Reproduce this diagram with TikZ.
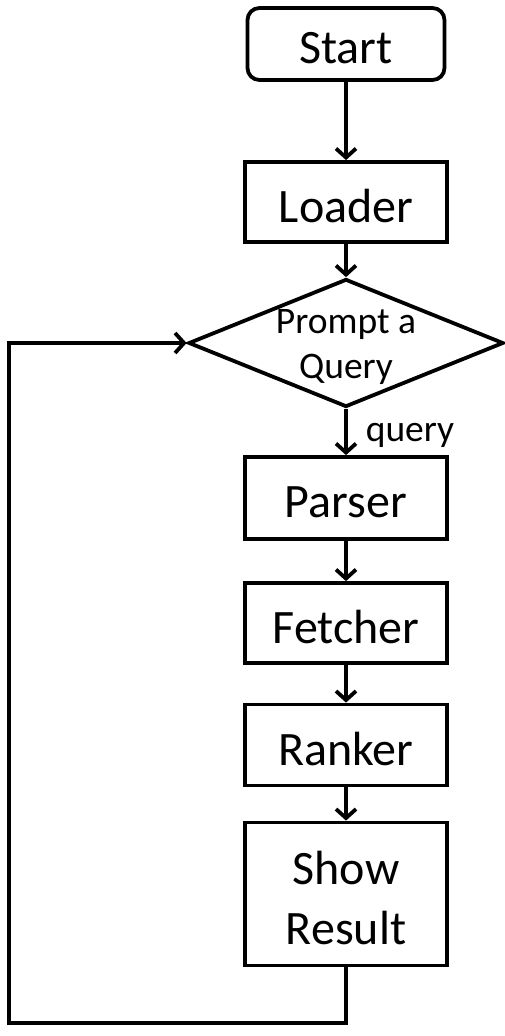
\documentclass[tikz,border=0pt]{standalone}
\usepackage{fontspec}
\setmainfont{Carlito}
\usetikzlibrary{arrows.meta,shapes.geometric}
\begin{document}
\begin{tikzpicture}[x=1pt,y=-1pt,
  line width=3.8pt,
  boxstyle/.style={draw=black,fill=white,minimum width=202pt,inner sep=0pt},
  txt/.style={font=\fontsize{48}{60}\selectfont,align=center,inner sep=0pt,yshift=-4pt},
  smalltxt/.style={font=\fontsize{37.5}{45}\selectfont,align=center,inner sep=0pt},
  arr/.style={-{Straight Barb[length=9pt,width=20pt,line width=3.8pt]}},
  ]
\useasboundingbox (0,0) rectangle (505,1036);
\node[boxstyle,rounded corners=12pt,minimum width=197pt,minimum height=72pt,label={[txt]center:Start}] (start) at (346,44) {};
\node[boxstyle,minimum height=80pt,label={[txt]center:Loader}] (loader) at (346,202) {};
\node[draw=black,fill=white,diamond,minimum width=315pt,minimum height=128pt,inner sep=0pt,
  label={[smalltxt,yshift=-4pt]center:Prompt a\\Query}] (prompt) at (346,343) {};
\node[boxstyle,minimum height=82pt,label={[txt]center:Parser}] (parser) at (346,498) {};
\node[boxstyle,minimum height=80pt,label={[txt]center:Fetcher}] (fetcher) at (346,623) {};
\node[boxstyle,minimum height=81pt,label={[txt]center:Ranker}] (ranker) at (346,745) {};
\node[boxstyle,minimum height=143pt,label={[txt]center:Show\\Result}] (show) at (346,894) {};
\node[smalltxt] (qlabel) at (410,435) {query};
\coordinate (c1) at (346,1023);
\coordinate (c2) at (9,1023);
\coordinate (c3) at (9,343);
\draw[arr] (start) -- (loader);
\draw[arr] (loader) -- (prompt);
\draw[arr] (prompt) -- (parser);
\draw[arr] (parser) -- (fetcher);
\draw[arr] (fetcher) -- (ranker);
\draw[arr] (ranker) -- (show);
\draw[arr,line join=miter] (show.south) -- (c1) -- (c2) -- (c3) -- (prompt.west);
\end{tikzpicture}
\end{document}
